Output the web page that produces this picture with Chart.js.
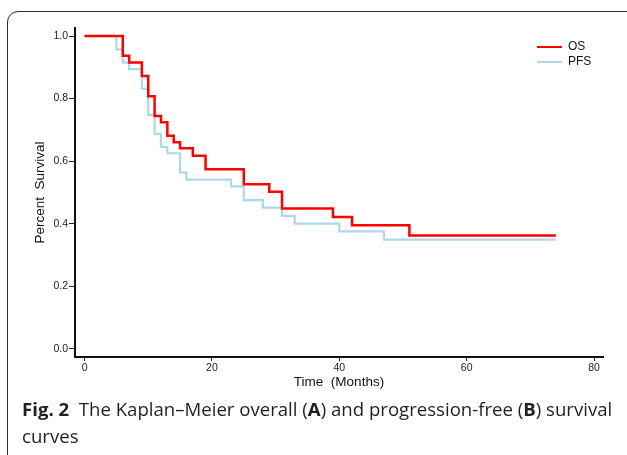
<!DOCTYPE html>
<html>
<head>
<meta charset="utf-8">
<script src="https://cdn.jsdelivr.net/npm/chart.js@4"></script>
<style>
  body { margin: 0; background: #fff; width: 627px; height: 455px; overflow: hidden; position: relative; }
  #frame {
    position: absolute; left: 7px; top: 11px; width: 640px; height: 470px;
    border: 1px solid #2e2e2e; border-radius: 11px; box-sizing: border-box;
  }
  #chart { position: absolute; left: 0; top: 0; }
  #caption {
    position: absolute; left: 22px; top: 395px; width: 600px;
    font-family: "Open Sans", sans-serif; font-size: 18.6px; line-height: 27px; color: #231f20;
  }
</style>
</head>
<body>
<div id="frame"></div>
<canvas id="chart" width="627" height="400"></canvas>
<div id="caption"><b>Fig. 2</b>&nbsp; The Kaplan–Meier overall (<b>A</b>) and progression-free (<b>B</b>) survival curves</div>
<script>
// Kaplan-Meier steps: time (months) and survival after each drop
const osTimes = [0, 6, 7, 9, 10, 11, 12, 13, 14, 15, 17, 19, 25, 29, 31, 39, 42, 51, 74];
const osSurv = [1.0, 0.937, 0.915, 0.872, 0.807, 0.744, 0.724, 0.681, 0.66, 0.641, 0.617, 0.574, 0.526, 0.502, 0.448, 0.421, 0.395, 0.362, 0.362];

const pfsTimes = [0, 5, 6, 7, 9, 10, 11, 12, 13, 15, 16, 23, 25, 28, 31, 33, 40, 47, 74];
const pfsSurv = [1.0, 0.957, 0.915, 0.894, 0.832, 0.748, 0.687, 0.645, 0.625, 0.563, 0.541, 0.519, 0.475, 0.451, 0.425, 0.4, 0.375, 0.349, 0.349];

const xTicks = [0, 20, 40, 60, 80];
const yTicks = [0, 0.2, 0.4, 0.6, 0.8, 1.0];

function toPoints(times, surv) {
  return times.map((t, i) => ({ x: t, y: surv[i] }));
}

// little legend in the top right corner of the plot, like the original
const cornerLegend = {
  id: "cornerLegend",
  afterDraw(chart) {
    const ctx = chart.ctx;
    const sets = chart.data.datasets;
    ctx.save();
    ctx.font = "12px 'Liberation Sans', Arial, sans-serif";
    ctx.textBaseline = "middle";
    sets.forEach((ds, i) => {
      const y = 47 + i * 15;
      ctx.strokeStyle = ds.borderColor;
      ctx.lineWidth = 2;
      ctx.beginPath();
      ctx.moveTo(537, y);
      ctx.lineTo(562, y);
      ctx.stroke();
      ctx.fillStyle = "#111";
      ctx.fillText(ds.label, 568, y);
    });
    ctx.restore();
  },
};

const tickFont = { family: "'Liberation Sans', Arial, sans-serif", size: 10.5 };
const titleFont = { family: "'Liberation Sans', Arial, sans-serif", size: 13.5 };

new Chart(document.querySelector("#chart"), {
  type: "line",
  data: {
    datasets: [
      {
        label: "OS",
        data: toPoints(osTimes, osSurv),
        borderColor: "#ff0000",
        borderWidth: 2.5,
        stepped: true,
        pointRadius: 0,
        fill: false,
        order: 0,
      },
      {
        label: "PFS",
        data: toPoints(pfsTimes, pfsSurv),
        borderColor: "#add8e6",
        borderWidth: 2.2,
        stepped: true,
        pointRadius: 0,
        fill: false,
        order: 1,
      },
    ],
  },
  options: {
    responsive: false,
    animation: false,
    layout: { padding: { top: 28, right: 24, bottom: 0, left: 0 } },
    plugins: { legend: { display: false }, tooltip: { enabled: false } },
    scales: {
      x: {
        type: "linear",
        min: -1.5,
        max: 81.4,
        afterBuildTicks: (s) => { s.ticks = xTicks.map((v) => ({ value: v })); },
        afterFit: (s) => { s.height = 43; },
        grid: { drawOnChartArea: false, tickLength: 4, tickColor: "#222", tickWidth: 1 },
        border: { display: true, color: "#111", width: 2 },
        ticks: { font: tickFont, color: "#222", padding: 1, maxRotation: 0 },
        title: { display: true, text: "Time  (Months)", font: titleFont, color: "#111", padding: { top: 0, bottom: 10 } },
      },
      y: {
        min: -0.0265,
        max: 1.0256,
        afterBuildTicks: (s) => { s.ticks = yTicks.map((v) => ({ value: v })); },
        afterFit: (s) => { s.width = 75; },
        grid: { drawOnChartArea: false, tickLength: 6, tickColor: "#222", tickWidth: 1 },
        border: { display: true, color: "#111", width: 2 },
        ticks: { font: tickFont, color: "#222", padding: 1, callback: (v) => v.toFixed(1) },
        title: { display: true, text: "Percent  Survival", font: titleFont, color: "#111", padding: { top: 32, bottom: 0 } },
      },
    },
  },
  plugins: [cornerLegend],
});
</script>
</body>
</html>
